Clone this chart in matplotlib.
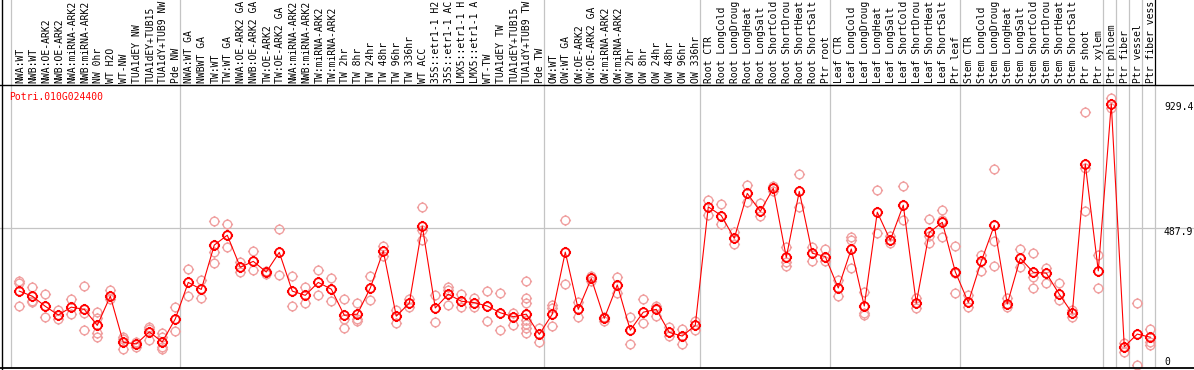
import matplotlib
matplotlib.use("Agg")
import matplotlib.pyplot as plt
from matplotlib.path import Path
from matplotlib.lines import Line2D

# ---------------- data ----------------
title = "Potri.010G024400"

labels = [
    "NWA:WT", "NWB:WT", "NWA:OE-ARK2", "NWB:OE-ARK2", "NWA:miRNA-ARK2", "NWB:miRNA-ARK2",
    "NW 0hr", "WT H2O", "WT-NW", "TUA1dEY NW", "TUA1dEY+TUB15", "TUA1dY+TUB9 NW", "Pde NW",
    "NWA:WT GA", "NWBWT GA", "TW:WT", "TW:WT GA", "NWA:OE-ARK2 GA", "NWB:OE-ARK2 GA",
    "TW:OE-ARK2", "TW:OE-ARK2 GA", "NWA:miRNA-ARK2", "NWB:miRNA-ARK2", "TW:miRNA-ARK2",
    "TW:miRNA-ARK2", "TW 2hr", "TW 8hr", "TW 24hr", "TW 48hr", "TW 96hr", "TW 336hr",
    "WT ACC", "35S::etr1-1 H2", "35S::etr1-1 AC", "LMX5::etr1-1 H", "LMX5::etr1-1 A",
    "WT-TW", "TUA1dEY TW", "TUA1dEY+TUB15", "TUA1dY+TUB9 TW", "Pde TW",
    "OW:WT", "OW:WT GA", "OW:OE-ARK2", "OW:OE-ARK2 GA", "OW:miRNA-ARK2", "OW:miRNA-ARK2",
    "OW 2hr", "OW 8hr", "OW 24hr", "OW 48hr", "OW 96hr", "OW 336hr",
    "Root CTR", "Root LongCold", "Root LongDroug", "Root LongHeat", "Root LongSalt",
    "Root ShortCold", "Root ShortDrou", "Root ShortHeat", "Root ShortSalt", "Ptr root",
    "Leaf CTR", "Leaf LongCold", "Leaf LongDroug", "Leaf LongHeat", "Leaf LongSalt",
    "Leaf ShortCold", "Leaf ShortDrou", "Leaf ShortHeat", "Leaf ShortSalt", "Ptr leaf",
    "Stem CTR", "Stem LongCold", "Stem LongDroug", "Stem LongHeat", "Stem LongSalt",
    "Stem ShortCold", "Stem ShortDrou", "Stem ShortHeat", "Stem ShortSalt",
    "Ptr shoot", "Ptr xylem", "Ptr phloem", "Ptr fiber", "Ptr vessel", "Ptr fiber vess",
]

means = [
    263, 245, 209, 178, 206, 198, 141, 245, 81, 75, 118, 82, 164,
    294, 269, 427, 462, 348, 369, 331, 401, 263, 248, 294, 270, 177, 181, 274, 406, 174,
    220, 494, 203, 252, 227, 222, 210, 186, 172, 181, 109,
    181, 402, 198, 308, 166, 285, 124, 188, 198, 116, 103, 141,
    563, 532, 451, 611, 547, 629, 383, 618, 398, 386,
    274, 413, 210, 544, 444, 569, 220, 472, 508, 332,
    223, 369, 497, 217, 380, 330, 327, 252, 184, 715, 335,
    929.4, 65, 110, 99,
]

replicates = [
    [299, 292, 210], [277, 228, 224], [253, 170], [196, 163], [235, 181],
    [281, 186, 125], [189, 168, 113, 101], [267, 236], [101, 94, 56], [83, 65],
    [136, 127, 89], [115, 101, 65, 56], [205, 120],
    [341, 245], [302, 238], [513, 401, 362], [502, 420], [368, 332], [406, 337],
    [335, 324], [484, 320], [317, 209], [279, 220], [337, 248], [309, 227],
    [234, 163, 131], [220, 163, 156], [316, 231], [424, 388], [196, 151], [236, 205],
    [561, 481, 445], [248, 153], [279, 267, 213], [252, 205], [238, 208], [262, 156],
    [255, 125], [186, 141], [299, 238, 220, 160, 146, 131, 115], [133, 83],
    [214, 202, 139], [515, 287], [224, 171], [300, 316], [172, 158], [312, 257],
    [170, 74], [234, 149], [211, 204, 176], [134, 103], [127, 74], [158, 125],
    [586, 533], [572, 501], [475, 430], [641, 581], [576, 532], [638, 618],
    [421, 366, 352], [680, 564], [421, 371], [413, 369],
    [303, 246], [455, 445, 344], [261, 184, 178], [622, 469], [459, 433],
    [637, 516], [238, 202], [519, 459, 433], [552, 516, 455], [424, 327, 255],
    [249, 208], [392, 336], [697, 440, 351], [238, 205], [412, 348],
    [398, 314, 273], [344, 291], [291, 231], [196, 170], [900, 700, 548], [392, 273],
    [950, 914], [77, 47], [220, 0], [128, 83, 71],
]

group_bounds = [0, 13, 41, 53, 63, 73, 84, 85, 86, 87, 88]
ref_values = [929.4, 487.9, 0]

# ---------------- layout ----------------
W, H = 1194, 370
fig = plt.figure(figsize=(W / 100, H / 100), dpi=100)
fig.patch.set_facecolor("white")

header_px = 85
bottom_px = 368
ax = fig.add_axes([0, (H - bottom_px) / H, 1, (bottom_px - header_px) / H])
hx = fig.add_axes([0, (H - header_px) / H, 1, header_px / H])

col_w = 13.0
x0_center = 17.2
xmin = -x0_center / col_w
xmax = (W - x0_center) / col_w
scale = 0.2809
zero_px = 365
ymin = -(bottom_px - zero_px) / scale
ymax = (zero_px - header_px) / scale

for a in (ax, hx):
    a.set_xlim(xmin, xmax)
    a.set_xticks([])
    a.set_yticks([])
    for s in a.spines.values():
        s.set_visible(False)
    a.set_facecolor("none")
ax.set_ylim(ymin, ymax)
hx.set_ylim(0, header_px)

grid_c = "#c4c4c4"
for b in group_bounds:
    ax.axvline(b - 0.5, color=grid_c, lw=0.9, zorder=1)
    if b != 88:
        hx.axvline(b - 0.5, color=grid_c, lw=0.9, zorder=1)
    else:
        hx.axvline(b - 0.5, color="black", lw=0.9, zorder=1)
ax.axhline(ref_values[1], color=grid_c, lw=0.9, zorder=1)

# marker: circle with four small ticks
circ = Path.unit_circle()
verts = list(circ.vertices)
codes = list(circ.codes)
for dx, dy in [(0, 1), (0, -1), (1, 0), (-1, 0)]:
    verts += [(dx * 1.0, dy * 1.0), (dx * 1.3, dy * 1.3)]
    codes += [Path.MOVETO, Path.LINETO]
mk = Path(verts, codes)

xoff = 0.16
xs = [i + xoff for i in range(len(means))]
rx, ry = [], []
for i, reps in enumerate(replicates):
    for v in reps:
        rx.append(i + xoff)
        ry.append(v)
ax.plot(rx, ry, linestyle="none", marker=mk, ms=8, mfc="none", mec="#f0a0a0",
        mew=1.0, zorder=2, clip_on=False)
ax.plot(xs, means, color="red", lw=0.8, zorder=3)
ax.plot(xs, means, linestyle="none", marker=mk, ms=8, mfc="none", mec="red",
        mew=1.3, zorder=4)

mono = "DejaVu Sans Mono"
fs = 7.0
for i, lab in enumerate(labels):
    hx.text(i + 0.24, 2, lab, rotation=90, ha="center", va="bottom",
            fontfamily=mono, fontsize=fs, color="black", clip_on=True)

ax.text(9.3 / W, 1 - (97 - header_px) / (bottom_px - header_px), title,
        transform=ax.transAxes, color="red", fontfamily=mono, fontsize=fs,
        ha="left", va="center")

offsets = [-3, -4, 3]
for v, off in zip(ref_values, offsets):
    ax.annotate(f"{v:g}" if v != 0 else "0", xy=(1164 / W, v),
                xycoords=("axes fraction", "data"), xytext=(0, off),
                textcoords="offset pixels", ha="left", va="center",
                fontfamily=mono, fontsize=fs, color="black")

# frame lines
fig.add_artist(Line2D([0, 1], [(H - header_px) / H] * 2, color="black", lw=1.0))
fig.add_artist(Line2D([0, 1], [(H - bottom_px) / H] * 2, color="black", lw=1.3))
fig.add_artist(Line2D([1.7 / W] * 2, [0, 1], color="black", lw=1.0))

fig.savefig("out.png", dpi=100, facecolor="white")
